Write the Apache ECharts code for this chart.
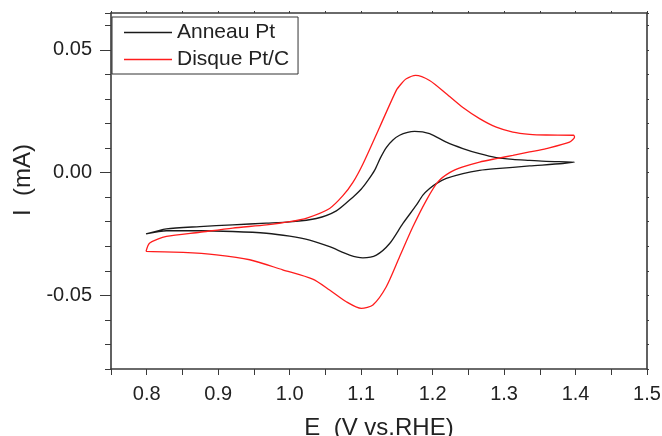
<!DOCTYPE html>
<html>
<head>
<meta charset="utf-8">
<script src="https://cdn.jsdelivr.net/npm/echarts@6/dist/echarts.min.js"></script>
<style>html,body{margin:0;padding:0;background:#fff}#c{width:662px;height:436px}</style>
</head>
<body>
<div id="c"></div>
<script>
// ---- Data ----
var seriesNames = ['Anneau Pt', 'Disque Pt/C'];
// Anneau Pt: anodic scan 0.8 -> 1.4 then cathodic back to 0.8
var anneauE = [0.799, 0.8276, 0.8741, 0.9203, 0.9674, 1.000, 1.0373, 1.0653, 1.0885, 1.1003, 1.1095, 1.1190, 1.1270, 1.1352, 1.1445, 1.1538, 1.1650, 1.1748, 1.1958, 1.2192, 1.2424, 1.2657, 1.2891, 1.3123, 1.3357, 1.3590, 1.3986,
               1.3822, 1.3357, 1.2891, 1.2657, 1.2424, 1.2192, 1.2052, 1.1958, 1.1864, 1.1772, 1.1585, 1.1399, 1.1213, 1.1025, 1.0839, 1.0559, 1.0280, 1.000, 0.9674, 0.9203, 0.8741, 0.8276, 0.799];
var anneauI = [-0.0250, -0.0229, -0.0220, -0.0213, -0.0206, -0.0201, -0.0187, -0.0156, -0.0100, -0.0067, -0.0032, 0.0010, 0.0060, 0.0102, 0.0133, 0.0152, 0.0164, 0.0168, 0.0159, 0.0124, 0.0098, 0.0077, 0.0061, 0.0054, 0.0050, 0.0046, 0.0043,
               0.0037, 0.0027, 0.0016, 0.0009, -0.0004, -0.0024, -0.0045, -0.0065, -0.0092, -0.0133, -0.0207, -0.0289, -0.0336, -0.0347, -0.0336, -0.0302, -0.0275, -0.0259, -0.0247, -0.0240, -0.0237, -0.0237, -0.0250];
// Disque Pt/C
var disqueE = [0.799, 0.8042, 0.8276, 0.8741, 0.9203, 0.9674, 1.000, 1.025, 1.0559, 1.0745, 1.0885, 1.1025, 1.1259, 1.1492, 1.1562, 1.1632, 1.1762, 1.1958, 1.2192, 1.2424, 1.2657, 1.2891, 1.3123, 1.3357, 1.3590, 1.3972, 1.3986,
               1.3916, 1.3590, 1.3357, 1.3123, 1.2891, 1.2657, 1.2424, 1.2238, 1.2074, 1.1912, 1.1724, 1.1538, 1.1352, 1.1165, 1.1003, 1.0793, 1.0559, 1.0322, 0.9902, 0.9441, 0.8975, 0.8508, 0.799];
var disqueI = [-0.0321, -0.0287, -0.0260, -0.0243, -0.0226, -0.0213, -0.0200, -0.0184, -0.0146, -0.0094, -0.0040, 0.0035, 0.0185, 0.0335, 0.0362, 0.0382, 0.0396, 0.0375, 0.0321, 0.0265, 0.0220, 0.0185, 0.0165, 0.0156, 0.0153, 0.0152, 0.0145,
               0.0124, 0.0098, 0.0084, 0.0070, 0.0057, 0.0043, 0.0023, 0.0000, -0.0038, -0.0113, -0.0221, -0.0343, -0.0465, -0.0539, -0.0553, -0.0526, -0.0478, -0.0434, -0.0396, -0.0355, -0.0335, -0.0325, -0.0321];
var yLabelValues = [-0.05, 0, 0.05];
var xAxisTitle = 'E  (V vs.RHE)';
var yAxisTitle = 'I  (mA)';

function pairs(xs, ys) { return xs.map(function (x, i) { return [x, ys[i]]; }); }

var axisColor = '#3a3a3a';
var chart = echarts.init(document.getElementById('c'), null, { renderer: 'canvas' });
chart.setOption({
  animation: false,
  backgroundColor: '#fff',
  textStyle: { fontFamily: 'Liberation Sans, Arial, sans-serif' },
  grid: { left: 111, right: 15, top: 13, bottom: 67, containLabel: false, outerBoundsMode: 'none' },
  legend: {
    orient: 'vertical', left: 112, top: 17,
    padding: [5, 9, 4, 12], itemGap: 6, itemWidth: 48, itemHeight: 1.3,
    borderColor: '#333', borderWidth: 1, backgroundColor: '#fff',
    textStyle: { fontSize: 21, color: '#222', fontFamily: 'Liberation Sans, Arial, sans-serif' },
    data: [{ name: seriesNames[0], icon: 'rect' }, { name: seriesNames[1], icon: 'rect' }]
  },
  xAxis: [{
    type: 'value', position: 'bottom', min: 0.75, max: 1.5, interval: 0.05,
    axisLine: { onZero: false, lineStyle: { color: axisColor, width: 1.6 } },
    axisTick: { inside: false, length: 6, lineStyle: { color: axisColor, width: 1 } },
    axisLabel: {
      margin: 15, fontSize: 20, color: '#222',
      formatter: function (v) { var t = v * 10; return Math.abs(t - Math.round(t)) < 1e-6 ? v.toFixed(1) : ''; }
    },
    splitLine: { show: false },
    name: xAxisTitle, nameLocation: 'middle', nameGap: 47,
    nameTextStyle: { fontSize: 24, color: '#222' }
  }, {
    type: 'value', position: 'top', min: 0.75, max: 1.5, interval: 0.05,
    axisLine: { onZero: false, lineStyle: { color: axisColor, width: 1.6 } },
    axisTick: { inside: false, length: 2, lineStyle: { color: axisColor } },
    axisLabel: { show: false }, splitLine: { show: false }
  }],
  yAxis: [{
    type: 'value', position: 'left', min: -0.08, max: 0.065,
    axisLine: { onZero: false, lineStyle: { color: axisColor, width: 1.6 } },
    axisTick: { inside: false, length: 11, customValues: yLabelValues, lineStyle: { color: axisColor } },
    axisLabel: {
      margin: 19, fontSize: 20, color: '#222', customValues: yLabelValues,
      formatter: function (v) { return (Math.round(v * 100) / 100).toFixed(2); }
    },
    splitLine: { show: false },
    name: yAxisTitle, nameLocation: 'middle', nameGap: 71,
    nameTextStyle: { fontSize: 24, color: '#222', padding: [0, 0, 0, 22] }
  }, {
    type: 'value', position: 'left', min: -0.08, max: 0.065, interval: 0.01,
    axisLine: { show: false },
    axisTick: { inside: false, length: 6, lineStyle: { color: axisColor } },
    axisLabel: { show: false }, splitLine: { show: false }
  }, {
    type: 'value', position: 'right', min: -0.08, max: 0.065, interval: 0.01,
    axisLine: { onZero: false, lineStyle: { color: axisColor, width: 1.6 } },
    axisTick: { inside: false, length: 2, lineStyle: { color: axisColor } },
    axisLabel: { show: false }, splitLine: { show: false }
  }],
  series: [{
    name: seriesNames[0], type: 'line', xAxisIndex: 0, yAxisIndex: 0,
    data: pairs(anneauE, anneauI), showSymbol: false, symbol: 'none', smooth: 0.25,
    lineStyle: { color: '#1a1a1a', width: 1.3 }, itemStyle: { color: '#1a1a1a' }
  }, {
    name: seriesNames[1], type: 'line', xAxisIndex: 0, yAxisIndex: 0,
    data: pairs(disqueE, disqueI), showSymbol: false, symbol: 'none', smooth: 0.25,
    lineStyle: { color: '#ff1c1c', width: 1.3 }, itemStyle: { color: '#ff1c1c' }
  }]
});
</script>
</body>
</html>
